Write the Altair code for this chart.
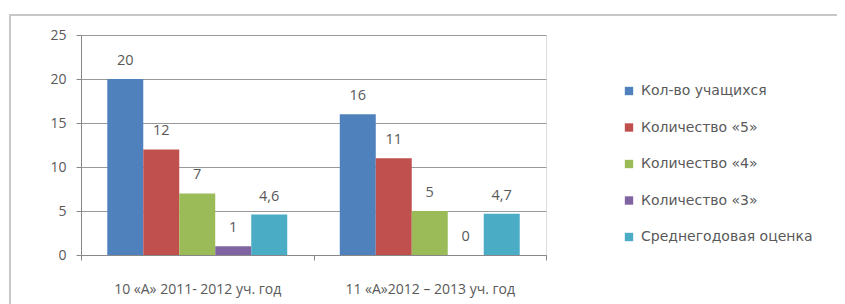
import altair as alt
import pandas as pd

groups = ["10 «А» 2011- 2012 уч. год", "11 «А»2012 – 2013 уч. год"]
series = ["Кол-во учащихся", "Количество «5»", "Количество «4»", "Количество «3»", "Среднегодовая оценка"]
values_2012 = [20, 12, 7, 1, 4.6]
values_2013 = [16, 11, 5, 0, 4.7]
labels_2012 = ["20", "12", "7", "1", "4,6"]
labels_2013 = ["16", "11", "5", "0", "4,7"]
colors = ["#4F81BD", "#C0504D", "#9BBB59", "#8064A2", "#4BACC6"]

rows = []
for g, vals, labs in [(groups[0], values_2012, labels_2012), (groups[1], values_2013, labels_2013)]:
    for s, v, l in zip(series, vals, labs):
        rows.append({"group": g, "series": s, "value": v, "label": l})
df = pd.DataFrame(rows)

FONT = "Open Sans"
GREY = "#595959"

x = alt.X("group:N", sort=groups, title=None,
          scale=alt.Scale(paddingInner=0, paddingOuter=0),
          axis=alt.Axis(labelAngle=0, labelFontSize=14, labelColor=GREY, labelFont=FONT,
                        domainColor="#888888", tickColor="#888888", tickBand="extent",
                        tickSize=5, labelPadding=22))
xo = alt.XOffset("series:N", sort=series, scale=alt.Scale(paddingInner=0, paddingOuter=0.73))
y = alt.Y("value:Q", title=None,
          scale=alt.Scale(domain=[0, 25]),
          axis=alt.Axis(values=[0, 5, 10, 15, 20, 25], labelFontSize=14, labelColor=GREY,
                        labelFont=FONT, domainColor="#888888", tickColor="#888888",
                        gridColor="#999999", gridWidth=1, tickSize=5, labelPadding=10))

bars = alt.Chart(df).mark_bar().encode(
    x=x, xOffset=xo, y=y,
    color=alt.Color("series:N", sort=series, scale=alt.Scale(domain=series, range=colors),
                    legend=alt.Legend(title=None, orient="none", legendX=541, legendY=49,
                                      symbolType="square", symbolSize=70, symbolStrokeWidth=0,
                                      labelFontSize=14, labelColor=GREY, labelFont="DejaVu Sans",
                                      labelLimit=300, rowPadding=22.5, labelOffset=5)),
)

text = alt.Chart(df).mark_text(dy=-18, fontSize=14.5, color=GREY, font=FONT).encode(
    x=x, xOffset=xo, y=y, text="label:N"
)

frame = alt.Chart(df).mark_rect(fill=None, stroke="#c8c8c8", strokeWidth=1.5, clip=False).encode(
    x=alt.value(-71), x2=alt.value(1000), y=alt.value(-20), y2=alt.value(400)
)

chart = alt.layer(frame, bars, text).properties(
    width=465, height=220,
    padding={"left": 73, "top": 27, "right": 291, "bottom": 49},
    autosize=alt.AutoSizeParams(type="none"),
).configure_view(stroke=None).configure(background="white")

chart.save("out.html", embed_options={"renderer": "svg", "actions": False})
